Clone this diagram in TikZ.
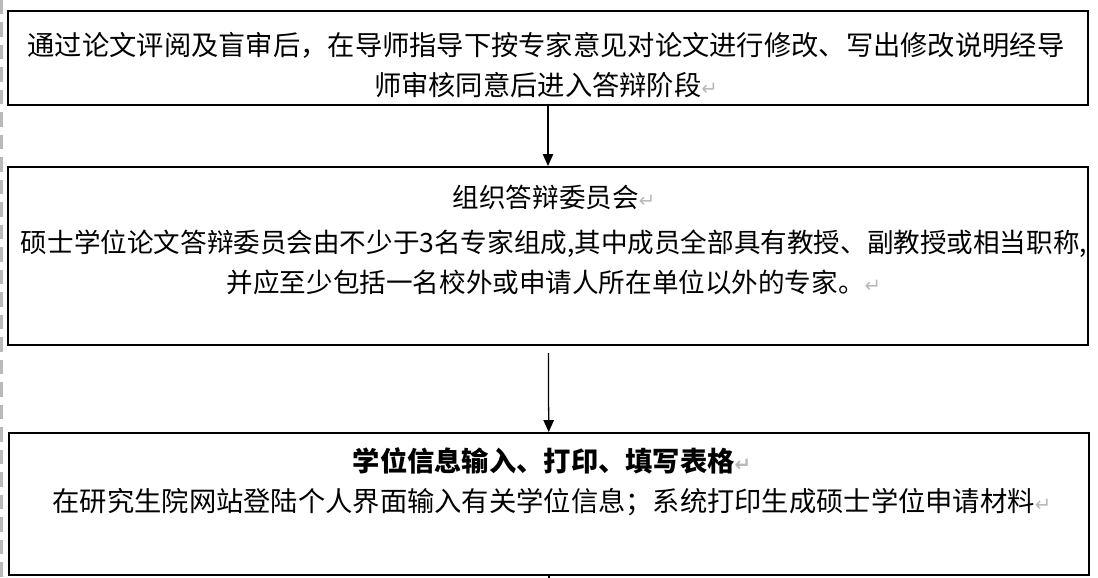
\documentclass[tikz,border=0pt]{standalone}
\usepackage{fontspec}
\newfontfamily\cjk{Noto Sans CJK SC}
\newfontfamily\arrowfont{DejaVu Sans}
\usetikzlibrary{arrows.meta}
\newcommand{\parmark}{{\arrowfont\fontsize{14pt}{14pt}\selectfont\color{gray!55}↵}}
\tikzset{
  box/.style={draw,line width=1.3pt,minimum width=27cm,inner sep=0pt},
  txt/.style={align=center,inner sep=0pt,font=\cjk\fontsize{19.4pt}{28.5pt}\selectfont},
  flow/.style={-{Triangle[length=0.3cm,width=0.26cm]},line width=0.9pt}
}
\begin{document}
\begin{tikzpicture}[x=0.025cm,y=-0.025cm]
    \useasboundingbox (0,0) rectangle (1098,578);
    \draw[gray!55,line width=1.5pt,dash pattern=on 10pt off 6pt] (1.5,0) -- (1.5,578);
    \node[box,minimum height=2.35cm] at (548,58) (b1) {};
    \node[box,minimum height=4.45cm] at (548,256) (b2) {};
    \node[box,minimum height=3.55cm] at (549,504) (b3) {};
    \node[txt] at (546,65) (t1) {通过论文评阅及盲审后，在导师指导下按专家意见对论文进行修改、写出修改说明经导\\师审核同意后进入答辩阶段\parmark};
    \node[txt,font=\cjk\fontsize{18.9pt}{28.5pt}\selectfont] at (554,240) (t2) {组织答辩委员会\parmark\\[4pt]
        硕士学位论文答辩委员会由不少于3名专家组成,其中成员全部具有教授、副教授或相当职称,\\
        并应至少包括一名校外或申请人所在单位以外的专家。\parmark};
    \node[txt] at (552,482) (t3) {\bfseries 学位信息输入、打印、填写表格\parmark\\
        在研究生院网站登陆个人界面输入有关学位信息；系统打印生成硕士学位申请材料\parmark};
    \draw[flow] (b1)--(b2);
    \draw[flow,shorten <=0.18cm] (b2)--(b3);
    \coordinate (next) at (549,578);
    \draw[line width=0.9pt] (b3)--(next);
\end{tikzpicture}
\end{document}
